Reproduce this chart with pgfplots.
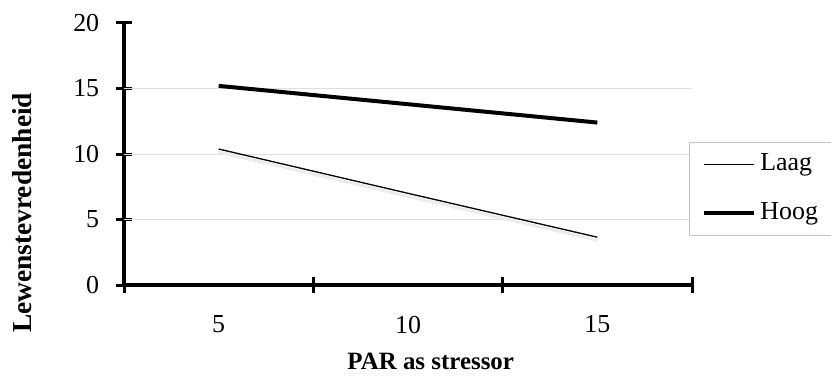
\documentclass[border=0pt]{standalone}
\usepackage{fontspec}
\setmainfont{Liberation Serif}
\usepackage{pgfplots}
\pgfplotsset{compat=1.18}
\begin{document}
\fontsize{26}{30}\selectfont
\begin{tikzpicture}[x=1bp,y=1bp]
\path[use as bounding box] (0,0) rectangle (831,376);
\begin{axis}[
  scale only axis,
  width=568bp, height=262bp,
  at={(124bp,91bp)}, anchor=south west,
  xmin=0.5, xmax=3.5, ymin=0, ymax=20,
  axis lines=left,
  axis line style={line width=4bp, -},
  /pgf/number format/assume math mode=true,
  xtick={0.5,1.5,2.5,3.5}, xticklabels={},
  extra x ticks={1,2,3}, extra x tick labels={5,10,15},
  extra x tick style={major tick length=0pt, xticklabel style={yshift=-22bp}},
  ytick={0,5,10,15,20},
  tick align=center,
  major tick length=16bp,
  tick style={line width=3bp, black},
  yticklabel style={xshift=-8bp},
  tick label style={font=\fontsize{26}{30}\selectfont},
  xlabel={\textbf{PAR as stressor}},
  ylabel={\textbf{Lewenstevredenheid}},
  xlabel style={font=\fontsize{25}{28}\selectfont, at={(axis description cs:0.540,-0.324)}, anchor=base},
  ylabel style={font=\fontsize{27.5}{30}\selectfont, at={(axis description cs:-0.179,0.275)}, anchor=center},
  legend style={at={(axis description cs:0.9947,0.546)}, anchor=north west,
    draw=gray!45, line width=0.8bp, font=\fontsize{26}{30}\selectfont,
    inner xsep=13bp, inner ysep=7.5bp, row sep=20bp, nodes={inner sep=4bp}},
  legend cell align=left,
  legend image code/.code={\draw[#1] (0bp,0bp) -- (50bp,0bp);},
  clip=false,
]
\draw[gray!25, line width=0.8bp] (axis cs:0.5,5) -- (axis cs:3.5,5);
\draw[gray!25, line width=0.8bp] (axis cs:0.5,10) -- (axis cs:3.5,10);
\draw[gray!25, line width=0.8bp] (axis cs:0.5,15) -- (axis cs:3.5,15);
\addplot[gray!15, line width=3bp, yshift=-3bp, forget plot] coordinates {(1,10.38) (2,7.0) (3,3.65)};
\addplot[black, line width=1.3bp] coordinates {(1,10.38) (2,7.0) (3,3.65)};
\addlegendentry{Laag}
\addplot[black, line width=4bp] coordinates {(1,15.2) (2,13.8) (3,12.4)};
\addlegendentry{Hoog}
\end{axis}
\end{tikzpicture}
\end{document}
